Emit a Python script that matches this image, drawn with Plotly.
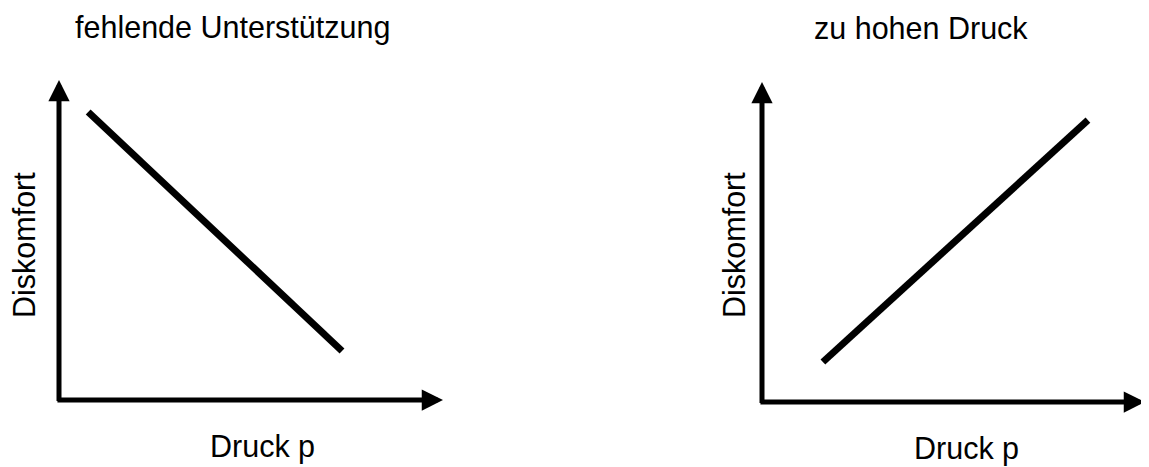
import plotly.graph_objects as go

# Page offset (default body margin of the html page)
OFF = 8
W, H = 1149 - OFF, 467 - OFF

# Data (conceptual curves: Druck p vs. Diskomfort)
titles = ["fehlende Unterstützung", "zu hohen Druck"]
x_label = "Druck p"
y_label = "Diskomfort"
left_druck = [0.076, 0.737]
left_diskomfort = [0.90, 0.153]
right_druck = [0.159, 0.851]
right_diskomfort = [0.125, 0.881]

FONT = "Liberation Sans, Arial, Helvetica, sans-serif"

def px_x(p):
    return min(1.0, (p - OFF) / W)

def px_y(p):
    return (H - (p - OFF)) / H

fig = go.Figure()

fig.add_trace(go.Scatter(x=left_druck, y=left_diskomfort, mode="lines",
                         line=dict(color="black", width=7), xaxis="x", yaxis="y",
                         showlegend=False, hoverinfo="skip"))
fig.add_trace(go.Scatter(x=right_druck, y=right_diskomfort, mode="lines",
                         line=dict(color="black", width=7), xaxis="x2", yaxis="y2",
                         showlegend=False, hoverinfo="skip"))

ax_common = dict(visible=False, range=[0, 1], fixedrange=True)
fig.update_layout(
    width=W, height=H,
    margin=dict(l=0, r=0, t=0, b=0),
    paper_bgcolor="white", plot_bgcolor="white",
    xaxis=dict(domain=[px_x(59), px_x(443)], anchor="y", **ax_common),
    yaxis=dict(domain=[px_y(400), px_y(80)], anchor="x", **ax_common),
    xaxis2=dict(domain=[px_x(762), px_x(1145)], anchor="y2", **ax_common),
    yaxis2=dict(domain=[px_y(402), px_y(82)], anchor="x2", **ax_common),
    showlegend=False,
)

annotations = []
# Axis arrows
for xr, yr in [("x", "y"), ("x2", "y2")]:
    annotations.append(dict(x=1, y=0, ax=-0.008, ay=0, xref=xr, yref=yr, axref=xr, ayref=yr,
                            showarrow=True, arrowhead=2, arrowsize=0.85, arrowwidth=5,
                            arrowcolor="black", text=""))
    annotations.append(dict(x=0, y=1, ax=0, ay=-0.008, xref=xr, yref=yr, axref=xr, ayref=yr,
                            showarrow=True, arrowhead=2, arrowsize=0.85, arrowwidth=5,
                            arrowcolor="black", text=""))

font = dict(family=FONT, size=30.5, color="black")
# Titles
annotations.append(dict(x=px_x(232), y=px_y(27), xref="paper", yref="paper", text=titles[0],
                        showarrow=False, font=font, xanchor="center", yanchor="middle"))
annotations.append(dict(x=px_x(921), y=px_y(28), xref="paper", yref="paper", text=titles[1],
                        showarrow=False, font=font, xanchor="center", yanchor="middle"))
# x labels
annotations.append(dict(x=px_x(262), y=px_y(446), xref="paper", yref="paper", text=x_label,
                        showarrow=False, font=font, xanchor="center", yanchor="middle"))
annotations.append(dict(x=px_x(966), y=px_y(448), xref="paper", yref="paper", text=x_label,
                        showarrow=False, font=font, xanchor="center", yanchor="middle"))
# y labels
annotations.append(dict(x=px_x(24), y=px_y(245), xref="paper", yref="paper", text=y_label,
                        showarrow=False, font=font, textangle=-90, xanchor="center", yanchor="middle"))
annotations.append(dict(x=px_x(734), y=px_y(245), xref="paper", yref="paper", text=y_label,
                        showarrow=False, font=font, textangle=-90, xanchor="center", yanchor="middle"))

fig.update_layout(annotations=annotations)

fig.write_html("out.html")
